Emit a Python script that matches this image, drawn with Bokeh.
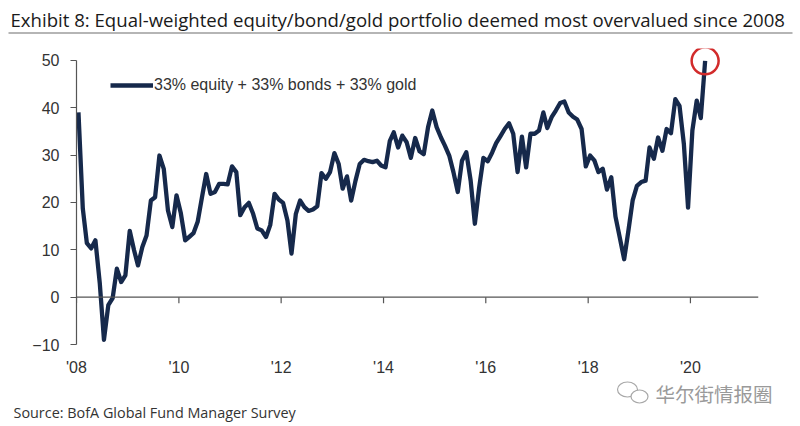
import pandas as pd
from bokeh.plotting import figure
from bokeh.layouts import column
from bokeh.models import (Range1d, Span, Label, BoxAnnotation, FixedTicker,
                          DatetimeTickFormatter)
from bokeh.embed import file_html
from bokeh.resources import INLINE

# monthly readings, Jan 2008 - Apr 2020
values = [
    39, 18.7, 11.4, 10.3, 12, 3, -9, -1.7, -0.2, 6, 3.2, 4.6,
    14, 9.9, 6.7, 10.6, 13, 20.4, 21.1, 29.9, 27.1, 18.3, 14.8, 21.5,
    17.7, 12, 12.7, 13.5, 15.9, 21.1, 26, 21.8, 22.2, 23.9, 23.9, 23.8,
    27.6, 26.4, 17.3, 19, 19.9, 17.6, 14.5, 14.1, 12.7, 15.2, 21.8, 20.6,
    19.9, 16.2, 9.2, 17.6, 20.4, 19, 18.2, 18.5, 19.2, 26.2, 25, 26.4,
    30.4, 28.1, 22.9, 25.5, 20.4, 24.6, 28.1, 29, 28.7, 28.5, 28.8, 27.8,
    27.4, 33, 34.8, 31.6, 34.1, 32.7, 29.4, 33.6, 30.8, 30.2, 35.9, 39.4,
    35.9, 33.7, 32, 29.9, 26.4, 22.2, 28.8, 30.6, 24.6, 15.5, 23.2, 29.4,
    28.7, 30.5, 32.5, 34, 35.5, 36.7, 34.5, 26.4, 33.9, 27.4, 34.5, 34.5,
    35.2, 39, 35.7, 38, 39.4, 41, 41.3, 39, 38.1, 37.5, 35.5, 27.6,
    29.9, 28.8, 26.4, 27.1, 22.7, 25.3, 17, 12.5, 8, 14, 20.5, 23.5,
    24.3, 24.6, 31.6, 29.2, 33.7, 30.9, 35.5, 34.6, 41.8, 40.4, 32.4, 18.9,
    35.2, 41.5, 37.8, 49.9,
]
months = pd.date_range("2008-01-01", periods=len(values), freq="MS") + pd.Timedelta(days=14)

tick_years = [2008, 2010, 2012, 2014, 2016, 2018, 2020]
y_ticks = [-10, 0, 10, 20, 30, 40, 50]
series_label = "33% equity + 33% bonds + 33% gold"
title_text = "Exhibit 8: Equal-weighted equity/bond/gold portfolio deemed most overvalued since 2008"
source_text = "Source: BofA Global Fund Manager Survey"
watermark = "华尔街情报圈"

tick_dates = [pd.Timestamp(f"{y}-01-01") for y in tick_years]
navy = "#16294B"
axis_grey = "#555555"
label_font = "Liberation Sans"


def blank(h, top):
    # a bare figure whose data units are page pixels
    f = figure(width=800, height=h, x_range=Range1d(0, 800), y_range=Range1d(top + h, top),
               output_backend="svg", toolbar_location=None, title=None,
               min_border=0, x_axis_type=None, y_axis_type=None)
    f.frame_align = False
    f.outline_line_color = None
    f.xgrid.grid_line_color = None
    f.ygrid.grid_line_color = None
    return f


# header: title with its rule
head = blank(40, 0)
head.add_layout(Label(x=10, y=19, text=title_text, text_font="Open Sans",
                      text_font_size="18.6px", text_baseline="middle", text_color="#1a1a1a"))
head.add_layout(BoxAnnotation(left=8, right=792, top=31.5, bottom=33.5,
                              fill_color="#b5b5b5", fill_alpha=1, line_color=None))

# chart
p = figure(width=800, height=338, x_axis_type="datetime", title=None,
           x_range=Range1d(pd.Timestamp("2008-01-01"), pd.Timestamp("2021-05-01")),
           y_range=Range1d(-10, 52.5),
           output_backend="svg", toolbar_location=None,
           min_border_left=76, min_border_right=42,
           min_border_top=8, min_border_bottom=33)
p.frame_align = False
p.outline_line_color = None
p.xgrid.grid_line_color = None
p.ygrid.grid_line_color = None

p.xaxis.ticker = FixedTicker(ticks=[t.timestamp() * 1000 for t in tick_dates])
p.xaxis.formatter = DatetimeTickFormatter(days="'%y", months="'%y", years="'%y")
p.xaxis.axis_line_color = None
p.xaxis.major_tick_line_color = None
p.xaxis.minor_tick_line_color = None
p.xaxis.major_tick_out = 0
p.xaxis.major_label_standoff = 14
p.xaxis.major_label_text_font = label_font
p.xaxis.major_label_text_font_size = "16px"
p.xaxis.major_label_text_color = "#333333"

p.yaxis.ticker = FixedTicker(ticks=y_ticks)
p.yaxis.bounds = (-10, 50)
p.yaxis.axis_line_color = axis_grey
p.yaxis.axis_line_width = 1.2
p.yaxis.major_tick_line_color = axis_grey
p.yaxis.major_tick_in = 0
p.yaxis.major_tick_out = 6
p.yaxis.minor_tick_line_color = None
p.yaxis.major_label_standoff = 11
p.yaxis.major_label_text_font = label_font
p.yaxis.major_label_text_font_size = "16px"
p.yaxis.major_label_text_color = "#333333"

# zero line acting as the x axis, with its own tick marks
p.add_layout(Span(location=0, dimension="width", line_color=axis_grey, line_width=1.2))
p.segment(x0=tick_dates, y0=0, x1=tick_dates, y1=-1.3, line_color=axis_grey, line_width=1.2)

p.line(months, values, line_color=navy, line_width=4.3, line_join="round",
       legend_label=series_label)
p.scatter([months[-1]], [values[-1]], marker="circle", size=27, fill_color=None,
          line_color="#D22B2B", line_width=2.5)

p.legend.location = (34, 247.4)
p.legend.border_line_color = None
p.legend.background_fill_alpha = 0
p.legend.padding = 0
p.legend.margin = 0
p.legend.glyph_width = 43
p.legend.glyph_height = 24
p.legend.label_height = 24
p.legend.label_standoff = 1
p.legend.label_text_font = label_font
p.legend.label_text_font_size = "16px"
p.legend.label_text_color = "#333333"

# footer: source and watermark
foot = blank(48, 378)
foot.add_layout(Label(x=13, y=412, text=source_text, text_font="Open Sans",
                      text_font_size="14.4px", text_baseline="middle", text_color="#333333"))
foot.ellipse(x=[627, 639], y=[389, 396], width=[20, 17], height=[15, 13],
             fill_color="white", line_color="#a8a8a8", line_width=1.2)
foot.add_layout(Label(x=655, y=393, text=watermark, text_font="Noto Sans CJK SC",
                      text_font_size="19.5px", text_baseline="middle", text_color="#9a9a9a"))

layout = column(head, p, foot, spacing=0)
open("out.html", "w").write(file_html(layout, INLINE))
